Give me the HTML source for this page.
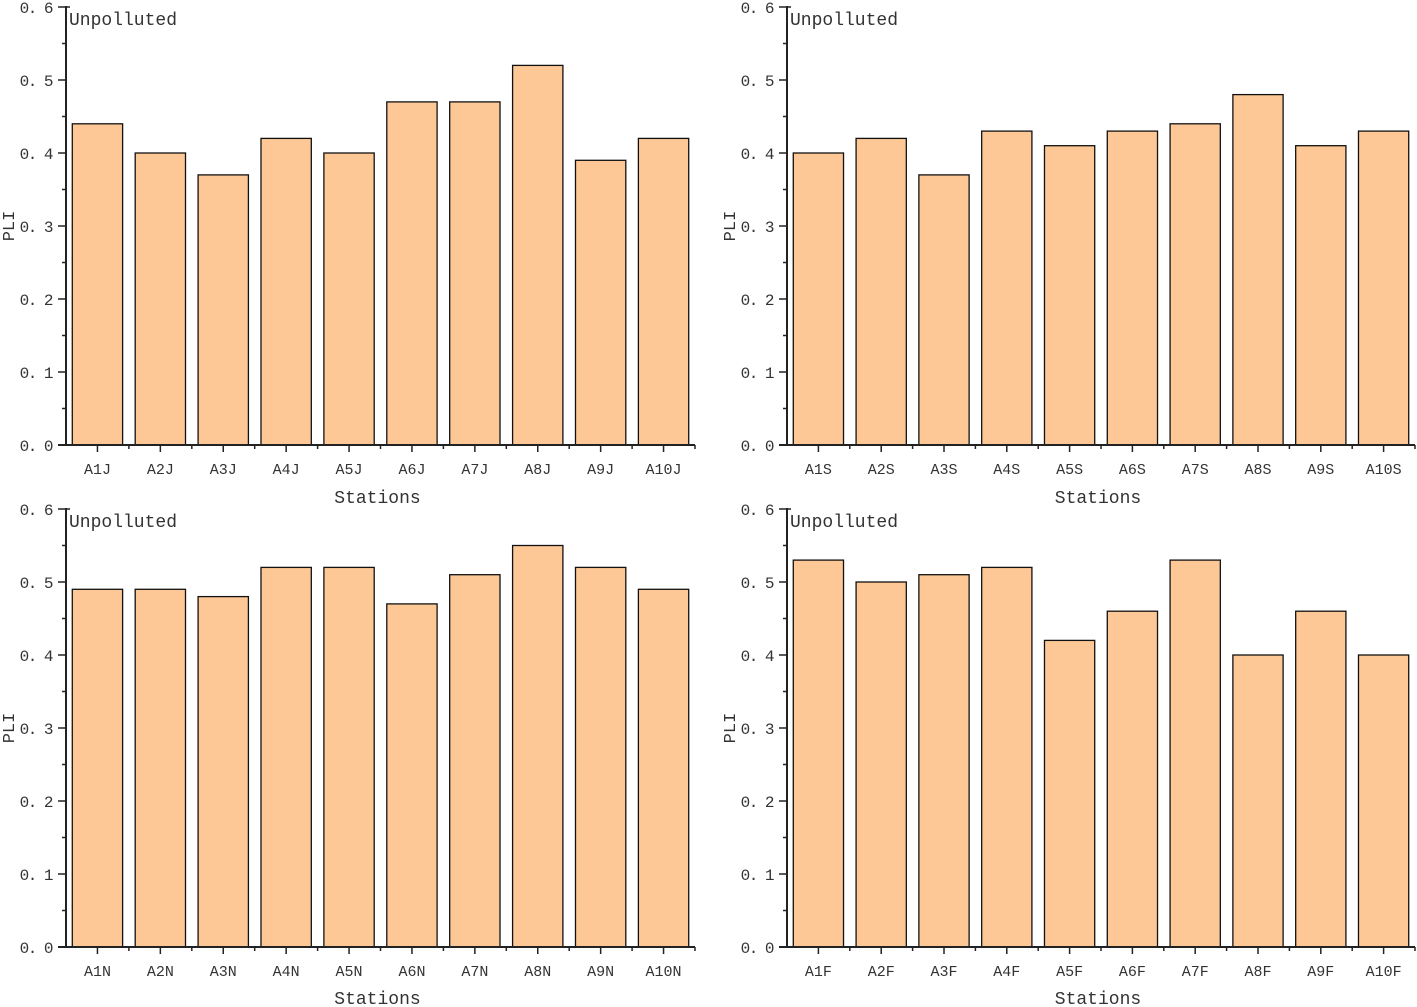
<!DOCTYPE html>
<html><head><meta charset="utf-8"><style>
body{margin:0;background:#fff;}
svg{display:block;font-family:"Liberation Mono","Noto Serif CJK SC",monospace;}
</style></head><body>
<svg id="c" width="1417" height="1007"></svg>
<script>
const ticks=["0. 0","0. 1","0. 2","0. 3","0. 4","0. 5","0. 6"];
const catsJ=["A1J","A2J","A3J","A4J","A5J","A6J","A7J","A8J","A9J","A10J"];
const valsJ=[0.44,0.40,0.37,0.42,0.40,0.47,0.47,0.52,0.39,0.42];
const catsS=["A1S","A2S","A3S","A4S","A5S","A6S","A7S","A8S","A9S","A10S"];
const valsS=[0.40,0.42,0.37,0.43,0.41,0.43,0.44,0.48,0.41,0.43];
const catsN=["A1N","A2N","A3N","A4N","A5N","A6N","A7N","A8N","A9N","A10N"];
const valsN=[0.49,0.49,0.48,0.52,0.52,0.47,0.51,0.55,0.52,0.49];
const catsF=["A1F","A2F","A3F","A4F","A5F","A6F","A7F","A8F","A9F","A10F"];
const valsF=[0.53,0.50,0.51,0.52,0.42,0.46,0.53,0.40,0.46,0.40];
const svg=document.getElementById('c');
const NS="http://www.w3.org/2000/svg";
function mk(t,a,p){const e=document.createElementNS(NS,t);for(const k in a)e.setAttribute(k,a[k]);(p||svg).appendChild(e);return e;}
function panel(id,cats,vals,x0,x1,yb,yt,titleY){
  const g=mk('g',{});
  
  
  const y=v=>yb-(v/0.6)*(yb-yt);
  const bw=(x1-x0)/cats.length;
  const xc=i=>x0+bw*(i+0.5);
  cats.forEach((c,i)=>{
    const r=mk('rect',{x:xc(i)-bw*0.4,y:y(vals[i]),width:bw*0.8,height:yb-y(vals[i]),fill:'#FDC896',stroke:'#111','stroke-width':1.3},g);
    
    
    mk('line',{x1:xc(i),x2:xc(i),y1:yb,y2:yb+7,stroke:'#222','stroke-width':1.5},g);
    mk('line',{x1:x0+bw*(i+1),x2:x0+bw*(i+1),y1:yb,y2:yb+4,stroke:'#222','stroke-width':1.5},g);
    const t=mk('text',{x:xc(i),y:yb+29,'text-anchor':'middle','font-size':15,fill:'#333'},g);
    t.textContent=c;
    
    
  });
  ticks.forEach((s,i)=>{
    const v=i*0.1;
    mk('line',{x1:x0-8,x2:x0,y1:y(v),y2:y(v),stroke:'#222','stroke-width':1.5},g);
    if(i<6)mk('line',{x1:x0-4,x2:x0,y1:y(v+0.05),y2:y(v+0.05),stroke:'#222','stroke-width':1.5},g);
    const t=mk('text',{x:x0-14,y:y(v)+6,'text-anchor':'end','font-size':16,'letter-spacing':-1.5,fill:'#333'},g);
    t.textContent=s;
    
    
  });
  mk('line',{x1:x0,x2:x0,y1:yt-1,y2:yb,stroke:'#222','stroke-width':2},g);
  mk('line',{x1:x0,x2:x0+4,y1:yt,y2:yt,stroke:'#222','stroke-width':1.5},g);
  mk('line',{x1:x0-8,x2:x1,y1:yb,y2:yb,stroke:'#222','stroke-width':2},g);
  const u=mk('text',{x:x0+3,y:yt+18,'font-size':18,fill:'#333'},g);
  u.textContent='Unpolluted';
  
  
  const xt=mk('text',{x:(x0+x1)/2-3,y:titleY,'text-anchor':'middle','font-size':18,fill:'#333'},g);
  xt.textContent='Stations';
  
  
  const cy=(yb+yt)/2;
  const yl=mk('text',{x:x0-52,y:cy,'text-anchor':'middle','font-size':17,fill:'#333',transform:`rotate(-90 ${x0-52} ${cy})`},g);
  yl.textContent='PLI';
  
  
}
panel('jan',catsJ,valsJ,66,695,445,7,503);
panel('spring',catsS,valsS,787,1415,445,7,503);
panel('n',catsN,valsN,66,695,947,509,1004);
panel('f',catsF,valsF,787,1415,947,509,1004);
</script>
</body></html>
